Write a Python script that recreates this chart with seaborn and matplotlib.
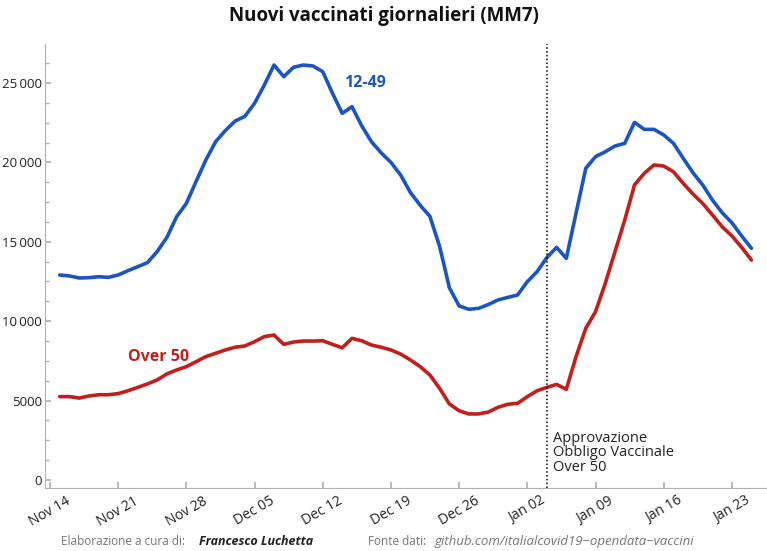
import numpy as np
import pandas as pd
import matplotlib
matplotlib.use("Agg")
import matplotlib.pyplot as plt
import matplotlib.dates as mdates
from matplotlib.ticker import FuncFormatter, AutoMinorLocator
import seaborn as sns

start_date = "2021-11-15"
n_days = 72
young_12_49 = [12.91, 12.85, 12.72, 12.74, 12.80, 12.76, 12.91, 13.18, 13.43, 13.69,
               14.38, 15.28, 16.58, 17.42, 18.80, 20.15, 21.30, 22.00, 22.60, 22.90,
               23.72, 24.87, 26.13, 25.40, 25.99, 26.13, 26.07, 25.71, 24.35, 23.09,
               23.51, 22.30, 21.30, 20.60, 20.00, 19.20, 18.10, 17.30, 16.60, 14.70,
               12.10, 10.96, 10.75, 10.81, 11.05, 11.34, 11.50, 11.65, 12.49, 13.12,
               14.00, 14.65, 13.96, 16.80, 19.63, 20.36, 20.67, 21.03, 21.20, 22.52,
               22.08, 22.08, 21.73, 21.20, 20.26, 19.35, 18.58, 17.63, 16.83, 16.20,
               15.37, 14.59]
over_50 = [5.25, 5.25, 5.16, 5.29, 5.37, 5.37, 5.44, 5.62, 5.83, 6.05,
           6.30, 6.68, 6.93, 7.14, 7.45, 7.77, 7.98, 8.19, 8.36, 8.44,
           8.71, 9.03, 9.13, 8.54, 8.69, 8.75, 8.75, 8.77, 8.54, 8.33,
           8.92, 8.77, 8.50, 8.36, 8.19, 7.93, 7.56, 7.14, 6.61, 5.77,
           4.79, 4.36, 4.16, 4.16, 4.28, 4.58, 4.77, 4.83, 5.25, 5.62,
           5.83, 6.02, 5.71, 7.77, 9.55, 10.60, 12.38, 14.38, 16.37, 18.58,
           19.31, 19.84, 19.77, 19.41, 18.68, 18.01, 17.42, 16.69, 15.95, 15.37,
           14.65, 13.85]
y_ticks = [0, 5000, 10000, 15000, 20000, 25000]
x_tick_start = "2021-11-14"
event_date = "2022-01-04"

dates = pd.date_range(start_date, periods=n_days, freq="D")
df = pd.DataFrame({
    "data": np.concatenate([dates, dates]),
    "valore": np.array(young_12_49 + over_50) * 1000,
    "gruppo": ["12-49"] * n_days + ["Over 50"] * n_days,
})

sns.set_theme(style="white")
plt.rcParams["font.family"] = ["Open Sans", "DejaVu Sans"]

BLUE = "#1c55c2"
RED = "#c21f1c"

fig = plt.figure(figsize=(7.67, 5.51), dpi=100)
ax = fig.add_axes([0.0587, 0.1143, 0.94, 0.806])

sns.lineplot(data=df, x="data", y="valore", hue="gruppo",
             palette={"12-49": BLUE, "Over 50": RED}, linewidth=2.6,
             legend=False, ax=ax)

ax.axvline(pd.Timestamp(event_date), color="black", linestyle=(0, (1, 1.5)), linewidth=1.1)

x0 = pd.Timestamp(x_tick_start)
ax.set_xlim(x0 - pd.Timedelta(days=0.51), x0 + pd.Timedelta(days=73.5))
ax.set_ylim(-504, 27460)

ax.set_yticks(y_ticks)
def fmt(v, pos):
    v = int(round(v))
    if v >= 10000:
        return f"{v:,}".replace(",", "\u2009")
    return str(v)
ax.yaxis.set_major_formatter(FuncFormatter(fmt))
ax.yaxis.set_minor_locator(AutoMinorLocator(4))

ticks = pd.date_range(x_tick_start, periods=11, freq="7D")
ax.set_xticks(ticks)
ax.xaxis.set_major_formatter(mdates.DateFormatter("%b %d"))

for lab in ax.get_xticklabels():
    lab.set_rotation(30)
    lab.set_ha("center")
    lab.set_fontsize(10)
    lab.set_color("#222222")
for lab in ax.get_yticklabels():
    lab.set_fontsize(9.5)
    lab.set_color("#222222")

ax.set_xlabel("")
ax.set_ylabel("")
for s in ["top", "right"]:
    ax.spines[s].set_visible(False)
for s in ["left", "bottom"]:
    ax.spines[s].set_color("#b0b0b0")
    ax.spines[s].set_linewidth(0.8)
ax.tick_params(axis="x", which="major", direction="in", length=4, color="#b0b0b0", pad=4, bottom=True)
ax.tick_params(axis="y", which="major", direction="in", length=4, color="#b0b0b0", pad=2, left=True)
ax.tick_params(axis="y", which="minor", direction="in", length=3, color="#b0b0b0", left=True)

ax.text(pd.Timestamp("2021-12-14") + pd.Timedelta(hours=5), 25000, "12-49", color=BLUE, fontsize=11.5,
        fontweight="bold", ha="left", va="center")
ax.text(pd.Timestamp("2021-11-22"), 7750, "Over 50", color=RED, fontsize=11.5,
        fontweight="bold", ha="left", va="center")
ax.text(pd.Timestamp("2022-01-04") + pd.Timedelta(days=0.6), 3100,
        "Approvazione\nObbligo Vaccinale\nOver 50", color="#222222", fontsize=10.5,
        ha="left", va="top", linespacing=0.95)

fig.text(0.5, 0.971, "Nuovi vaccinati giornalieri (MM7)", ha="center", va="center",
         fontsize=13.5, fontweight="bold", color="#111111")

fy = 0.017
fig.text(61 / 767, fy, "Elaborazione a cura di:", ha="left", va="center",
         fontsize=8.5, color="#777777")
fig.text(199 / 767, fy, "Francesco Luchetta", ha="left", va="center",
         fontsize=9, color="#222222", fontweight="bold", style="italic")
fig.text(368 / 767, fy, "Fonte dati:", ha="left", va="center",
         fontsize=8.5, color="#777777")
fig.text(435 / 767, fy, "github.com/italialcovid19\u2212opendata\u2212vaccini", ha="left", va="center",
         fontsize=9.5, color="#777777", style="italic")

fig.savefig("out.png", dpi=100)
